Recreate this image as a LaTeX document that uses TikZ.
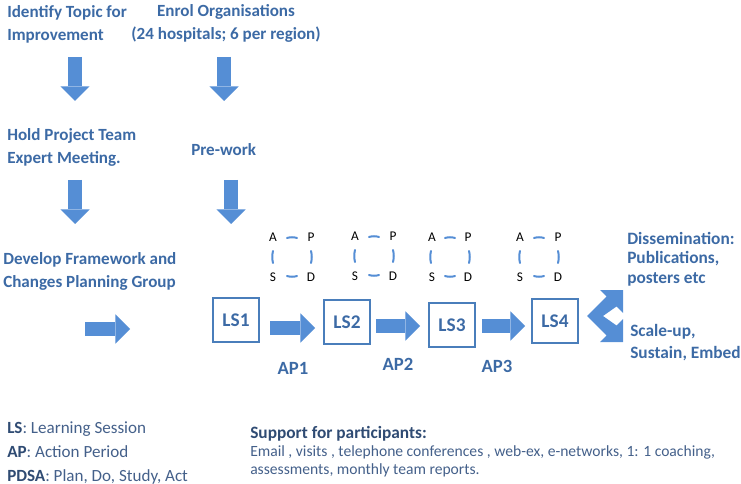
\documentclass[tikz,border=0pt]{standalone}
\usepackage{fontspec}
\setmainfont{Carlito}
\usetikzlibrary{arrows.meta}
\definecolor{headblue}{HTML}{3C6AA5}
\definecolor{arrowblue}{HTML}{558ED5}
\definecolor{boxblue}{HTML}{4A7EBB}
\definecolor{legendblue}{HTML}{44608A}
\definecolor{legendnavy}{HTML}{2F4B73}
\newcommand{\lgdkey}[1]{\textcolor{legendnavy}{\textbf{#1}}}

\tikzset{
  heading/.style={text=headblue, font=\fontsize{12.8}{17.2}\selectfont\bfseries, align=left, inner sep=0pt},
  blockarrow/.style={draw=arrowblue, line width=11pt, -{Triangle[width=22pt,length=11pt,line width=0pt]}},
  lsbox/.style={draw=boxblue, line width=1.5pt, minimum width=34.5pt, minimum height=33pt, text=headblue, font=\fontsize{14.5}{16}\selectfont\bfseries},
  aplabel/.style={text=headblue, font=\fontsize{14}{16}\selectfont\bfseries},
  pdsa/.style={font=\fontsize{10}{11}\selectfont, inner sep=0pt},
  cyclearc/.style={draw=arrowblue, line width=1.5pt, line cap=round},
}

\begin{document}
\begin{tikzpicture}[x=0.75pt,y=-0.75pt]
\useasboundingbox (0,0) rectangle (741,484);

%left column
\node [heading,anchor=west] (topic) at (7,24) {Identify Topic for\\Improvement} ;
\node [heading,anchor=west] (hold) at (7,147) {Hold Project Team\\Expert Meeting.} ;
\node [heading,anchor=west] (develop) at (3,271) {Develop Framework and\\Changes Planning Group} ;

%second column
\node [heading,align=center] (enrol) at (226,23) {Enrol Organisations\\(24 hospitals; 6 per region)} ;
\node [heading,anchor=west] (prework) at (191,150) {Pre-work} ;

%down arrows
\coordinate (topicout) at (75,57) ;
\coordinate (holdin) at (75,101) ;
\coordinate (enrolout) at (224,57) ;
\coordinate (preworkin) at (224,101) ;
\coordinate (holdout) at (75,180) ;
\coordinate (developin) at (75,224) ;
\coordinate (preworkout) at (231,180) ;
\coordinate (cyclein) at (231,224) ;
\draw [blockarrow] (topicout) -- (holdin) ;
\draw [blockarrow] (enrolout) -- (preworkin) ;
\draw [blockarrow] (holdout) -- (developin) ;
\draw [blockarrow] (preworkout) -- (cyclein) ;

%learning sessions
\node [lsbox] (ls1) at (236,320) {LS1} ;
\node [lsbox] (ls2) at (347,322) {LS2} ;
\node [lsbox] (ls3) at (452,325) {LS3} ;
\node [lsbox] (ls4) at (555,321) {LS4} ;

%arrows between sessions
\coordinate (developout) at (85,329) ;
\coordinate (developend) at (130,329) ;
\draw [blockarrow] (developout) -- (developend) ;
\draw [blockarrow] ([shift={(10,8)}]ls1.east) -- ([shift={(-8,6)}]ls2.west) ;
\draw [blockarrow] ([shift={(5,4)}]ls2.east) -- ([shift={(-8,1)}]ls3.west) ;
\draw [blockarrow] ([shift={(6,1)}]ls3.east) -- ([shift={(-6,5)}]ls4.west) ;

%action period labels
\node [aplabel] (ap1) at (293,368) {AP1} ;
\node [aplabel] (ap2) at (398,364) {AP2} ;
\node [aplabel] (ap3) at (497,366) {AP3} ;

%first cycle
\draw [cyclearc,shift={(292,257)}] (-5,-19) .. controls (-2,-20) and (2,-20) .. (5,-19)
  (19,-6) .. controls (20,-2) and (20,2) .. (19,6)
  (5,19) .. controls (2,20) and (-2,20) .. (-5,19)
  (-19,6) .. controls (-20,2) and (-20,-2) .. (-19,-6) ;
\node [pdsa] (a1) at (273,237) {A} ;
\node [pdsa] (p1) at (311,237) {P} ;
\node [pdsa] (s1) at (273,277) {S} ;
\node [pdsa] (d1) at (311,277) {D} ;

%second cycle
\draw [cyclearc,shift={(374,256)}] (-5,-19) .. controls (-2,-20) and (2,-20) .. (5,-19)
  (19,-6) .. controls (20,-2) and (20,2) .. (19,6)
  (5,19) .. controls (2,20) and (-2,20) .. (-5,19)
  (-19,6) .. controls (-20,2) and (-20,-2) .. (-19,-6) ;
\node [pdsa] (a2) at (355,236) {A} ;
\node [pdsa] (p2) at (393,236) {P} ;
\node [pdsa] (s2) at (355,276) {S} ;
\node [pdsa] (d2) at (393,276) {D} ;

%third cycle
\draw [cyclearc,shift={(450,257)}] (-5,-19) .. controls (-2,-20) and (2,-20) .. (5,-19)
  (19,-6) .. controls (20,-2) and (20,2) .. (19,6)
  (5,19) .. controls (2,20) and (-2,20) .. (-5,19)
  (-19,6) .. controls (-20,2) and (-20,-2) .. (-19,-6) ;
\node [pdsa] (a3) at (432,237) {A} ;
\node [pdsa] (p3) at (468,237) {P} ;
\node [pdsa] (s3) at (432,277) {S} ;
\node [pdsa] (d3) at (468,277) {D} ;

%fourth cycle
\draw [cyclearc,shift={(539,257)}] (-5,-19) .. controls (-2,-20) and (2,-20) .. (5,-19)
  (19,-6) .. controls (20,-2) and (20,2) .. (19,6)
  (5,19) .. controls (2,20) and (-2,20) .. (-5,19)
  (-19,6) .. controls (-20,2) and (-20,-2) .. (-19,-6) ;
\node [pdsa] (a4) at (520,237) {A} ;
\node [pdsa] (p4) at (558,237) {P} ;
\node [pdsa] (s4) at (520,277) {S} ;
\node [pdsa] (d4) at (558,277) {D} ;

%double arrow after LS4
\fill [arrowblue] (587,316) -- (606.5,296.5) -- (600,290) -- (623,290) -- (623,313)
  -- (616.5,306.5) -- (603,316) -- (616.5,325.5) -- (623,319) -- (623,342)
  -- (600,342) -- (606.5,335.5) -- cycle ;

%outcomes
\node [heading,anchor=west,font=\fontsize{13}{14.6}\selectfont\bfseries] (dissem) at (627,259) {Dissemination:\\Publications,\\posters etc} ;
\node [heading,anchor=west,font=\fontsize{13}{16.5}\selectfont\bfseries] (scale) at (630,343) {Scale-up,\\Sustain, Embed} ;

%legend
\node [anchor=west,align=left,inner sep=0pt,text=legendblue,font=\fontsize{12.8}{18}\selectfont] (legend) at (7,453)
  {\lgdkey{LS}: Learning Session\\\lgdkey{AP}: Action Period\\\lgdkey{PDSA}: Plan, Do, Study, Act} ;

%support
\node [anchor=west,inner sep=0pt,text=legendnavy,font=\fontsize{13}{15}\selectfont\bfseries] (support) at (250,434) {Support for participants:} ;
\node [anchor=north west,align=left,inner sep=0pt,text=legendblue,font=\fontsize{11.7}{13.5}\selectfont] (supportlist) at (250,445)
  {Email , visits , telephone conferences , web-ex, e-networks, 1: 1 coaching,\\assessments, monthly team reports.} ;

\end{tikzpicture}
\end{document}
